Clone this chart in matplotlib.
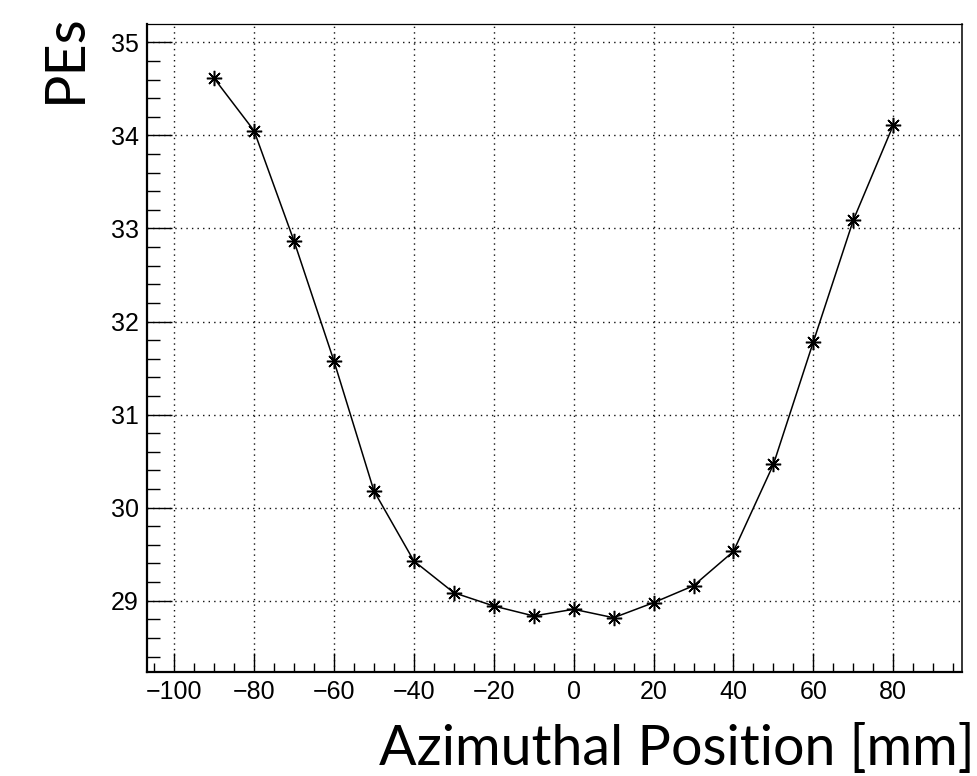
import matplotlib
matplotlib.use("Agg")
import matplotlib.pyplot as plt
from matplotlib.ticker import MultipleLocator

positions = [-90, -80, -70, -60, -50, -40, -30, -20, -10, 0, 10, 20, 30, 40, 50, 60, 70, 80]
pes = [34.613, 34.05, 32.865, 31.575, 30.18, 29.427, 29.086, 28.943, 28.836,
       28.908, 28.817, 28.979, 29.161, 29.53, 30.465, 31.783, 33.09, 34.111]

x_label = "Azimuthal Position [mm]"
y_label = "PEs"

W, H = 978, 776
fig = plt.figure(figsize=(W / 100, H / 100), dpi=100)
L, R, T, B = 147, 962, 24, 671.7
ax = fig.add_axes([L / W, 1 - B / H, (R - L) / W, (B - T) / H])

ax.plot(positions, pes, color="black", lw=1.1, marker=(8, 2, 0), ms=11,
        mew=1.1, mec="black", zorder=3)

ax.set_xlim(-106.8, 97.2)
ax.set_ylim(28.237, 35.197)

ax.xaxis.set_major_locator(MultipleLocator(20))
ax.xaxis.set_minor_locator(MultipleLocator(5))
ax.yaxis.set_major_locator(MultipleLocator(1))
ax.yaxis.set_minor_locator(MultipleLocator(0.2))

ax.grid(True, which="major", color="#111111", linestyle=(0, (1, 3)), lw=1.0)

tick_font = "Liberation Sans"
ax.tick_params(axis="x", which="major", direction="in", length=14, width=1.0,
               pad=6, labelsize=18, top=False)
ax.tick_params(axis="x", which="minor", direction="in", length=6.5, width=1.0, top=False)
ax.tick_params(axis="y", which="major", direction="in", length=18, width=1.0,
               pad=6, labelsize=18, right=False)
ax.tick_params(axis="y", which="minor", direction="in", length=9, width=1.0, right=False)
for lab in ax.get_xticklabels() + ax.get_yticklabels():
    lab.set_fontfamily(tick_font)

ax.spines["left"].set_linewidth(1.6)
ax.spines["bottom"].set_linewidth(1.6)
ax.spines["top"].set_linewidth(0.9)
ax.spines["right"].set_linewidth(1.1)
for s in ax.spines.values():
    s.set_color("black")

title_font = "Lato"
fig.text(975 / W, 1 - 765 / H, x_label, ha="right", va="baseline",
         fontsize=40, fontfamily=title_font)
fig.text(81 / W, 1 - 13 / H, y_label, ha="right", va="baseline",
         rotation=90, rotation_mode="anchor", fontsize=40, fontfamily=title_font)

fig.savefig("out.png", dpi=100)
